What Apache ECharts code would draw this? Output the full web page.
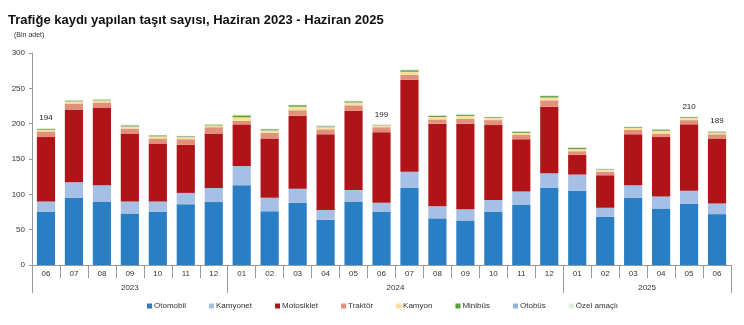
<!DOCTYPE html>
<html>
<head>
<meta charset="utf-8">
<script src="https://cdn.jsdelivr.net/npm/echarts@6/dist/echarts.min.js"></script>
<style>html,body{margin:0;padding:0;background:#fff}#c{width:744px;height:325px}</style>
</head>
<body>
<div id="c"></div>
<script>
var months = ['06','07','08','09','10','11','12','01','02','03','04','05','06','07','08','09','10','11','12','01','02','03','04','05','06'];
var yearLabels = {3.5:'2023', 13:'2024', 22:'2025'};
var yearBounds = [0, 7, 19, 25];
var yTicks = [0, 50, 100, 150, 200, 250, 300];

var otomobil   = [75, 95, 90, 73, 75, 86, 89, 113, 76, 88, 64, 90, 75, 109, 66, 63, 75, 85, 109, 105, 68, 95, 80, 87, 72];
var kamyonet   = [15, 22, 23, 17, 15, 16, 20, 27, 19, 20, 14, 16, 13, 23, 17, 16, 17, 19, 21, 23, 13, 18, 17, 18, 15];
var motosiklet = [91, 103, 110, 96, 82, 68, 77, 59, 84, 103, 107, 112, 100, 130, 117, 121, 106, 74, 94, 28, 46, 72, 84, 94, 92];
var traktor    = [8, 8.5, 7, 7, 7, 8, 9, 5, 8, 8, 7, 8, 7, 7, 6, 7, 7, 6, 9, 5, 5, 6, 5, 6, 6];
var kamyon     = [2.5, 3, 3, 3, 3, 3, 2.5, 5, 3.5, 5, 3, 4, 2.5, 4.5, 3.5, 4, 3, 3, 4, 3, 2.5, 3, 4, 3, 2.5];
var minibus    = [1, 1, 1, 1, 1, 1, 1, 2, 1.5, 2, 1, 1.5, 0.5, 2, 1.5, 1.5, 1, 1.5, 2, 1.5, 0.5, 1, 1.5, 1, 1];
var otobus     = [0.5, 0.5, 0.5, 1, 1, 0.5, 0.5, 1, 0.5, 0.5, 1, 0.5, 0.5, 0.5, 0.5, 0.5, 0.5, 0.5, 0.5, 0.5, 1, 0.5, 0.5, 0.5, 0.5];
var ozelAmacli = [1, 1, 0.5, 1, 0.5, 0.5, 0.5, 1, 0.5, 0.5, 0.5, 0.5, 0.5, 1, 0.5, 0.5, 0.5, 0.5, 0.5, 0.5, 0.5, 0.5, 0.5, 0.5, 0.5];
var totalLabels = [194, null, null, null, null, null, null, null, null, null, null, null, 199, null, null, null, null, null, null, null, null, null, null, 210, 189];

var seriesDefs = [
  ['Otomobil', otomobil, '#2a7fc4'],
  ['Kamyonet', kamyonet, '#a6bfe4'],
  ['Motosiklet', motosiklet, '#ae1418'],
  ['Traktör', traktor, '#e1907e'],
  ['Kamyon', kamyon, '#fbe09a'],
  ['Minibüs', minibus, '#5d9a3d'],
  ['Otobüs', otobus, '#8fb4e0'],
  ['Özel amaçlı', ozelAmacli, '#e3eed8']
];

var font = 'Liberation Sans, Arial, sans-serif';
var series = seriesDefs.map(function (d, i) {
  var s = {
    name: d[0], type: 'bar', stack: 'total', data: d[1],
    itemStyle: { color: d[2] },
    barCategoryGap: '35%',
    xAxisIndex: 0, yAxisIndex: 0
  };
  if (i === seriesDefs.length - 1) {
    s.label = {
      show: true, position: 'top', distance: 6,
      fontFamily: font, fontSize: 8, color: '#222',
      formatter: function (p) { var v = totalLabels[p.dataIndex]; return v == null ? '' : String(v); }
    };
  }
  return s;
});

var chart = echarts.init(document.getElementById('c'), null, { renderer: 'canvas' });
chart.setOption({
  animation: false,
  backgroundColor: '#fff',
  title: {
    text: 'Trafiğe kaydı yapılan taşıt sayısı, Haziran 2023 - Haziran 2025',
    left: 3, top: 9,
    textStyle: { fontFamily: font, fontSize: 13, fontWeight: 'bold', color: '#111' }
  },
  graphic: [{
    type: 'text', left: 14, top: 32,
    style: { text: '(Bin adet)', fontFamily: font, fontSize: 7, fill: '#333' }
  }],
  legend: {
    left: 142, top: 297,
    itemWidth: 5, itemHeight: 5, itemGap: 23,
    icon: 'rect',
    textStyle: { fontFamily: font, fontSize: 8, color: '#333', padding: [0, 0, 0, -3] },
    data: seriesDefs.map(function (d) { return d[0]; })
  },
  grid: { left: 32, right: 13, top: 53, bottom: 60 },
  xAxis: [{
    type: 'category', data: months, position: 'bottom',
    axisLine: { show: true, lineStyle: { color: '#999', width: 1 } },
    axisTick: { show: true, interval: 0, length: 13, lineStyle: { color: '#999' } },
    axisLabel: { interval: 0, fontFamily: font, fontSize: 8, color: '#333', margin: 5 }
  }, {
    type: 'value', min: 0, max: 25, position: 'bottom',
    axisLine: { show: false },
    splitLine: { show: false },
    axisTick: { show: true, customValues: yearBounds, length: 28, lineStyle: { color: '#999' } },
    axisLabel: {
      show: true, customValues: [3.5, 13, 22], fontFamily: font, fontSize: 8, color: '#333', margin: 19,
      formatter: function (v) { return yearLabels[v] || ''; }
    }
  }],
  yAxis: {
    type: 'value', min: 0, max: 300, interval: 50,
    axisLine: { show: true, lineStyle: { color: '#999' } },
    axisTick: { show: true, length: 3, lineStyle: { color: '#999' } },
    splitLine: { show: false },
    axisLabel: { fontFamily: font, fontSize: 8, color: '#333', margin: 7,
      formatter: function (v) { return yTicks.indexOf(v) >= 0 ? String(v) : ''; } }
  },
  series: series
});
</script>
</body>
</html>
